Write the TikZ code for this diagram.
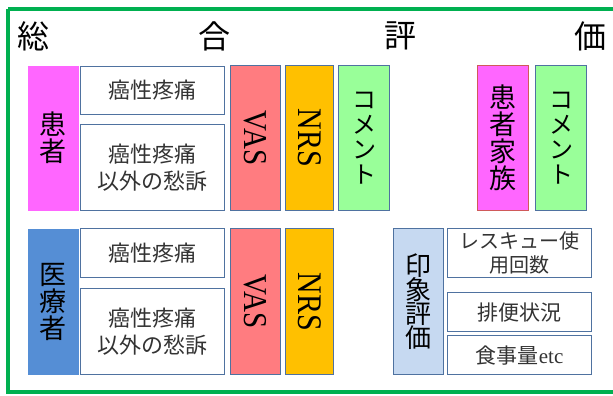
\documentclass[tikz,border=0pt]{standalone}
\usepackage{fontspec}
\setmainfont{Liberation Serif}
\newfontfamily\jp{Noto Sans CJK JP}
\usepackage{graphicx}
\definecolor{frameg}{HTML}{00B050}
\definecolor{magb}{HTML}{FF66FF}
\definecolor{vasc}{HTML}{FF7C80}
\definecolor{nrsc}{HTML}{FFC000}
\definecolor{comc}{HTML}{99FF99}
\definecolor{medc}{HTML}{558ED5}
\definecolor{impc}{HTML}{C6D9F1}
\definecolor{bordc}{HTML}{4F72A0}
\definecolor{redb}{HTML}{D05A5A}
\begin{document}
\begin{tikzpicture}[x=1pt,y=-1pt,
  box/.style={draw=bordc, line width=1.2pt, inner sep=0pt, anchor=north west, align=center},
  wbox/.style={box, fill=white, font=\jp\fontsize{22}{27}\selectfont, text=black!80},
  vbox/.style={box, font=\jp\fontsize{27}{27}\selectfont},
  lat/.style={box, font=\fontsize{30}{30}\selectfont},
  ttl/.style={font=\jp\fontsize{32}{32}\selectfont, inner sep=0pt}]
\useasboundingbox (0,0) rectangle (613,396);
\fill[white] (0,0) rectangle (613,396);
\draw[frameg, line width=4pt] (8,9) -- (620,9) (8,9) -- (8,392) -- (620,392);
% title
\node[ttl] (t1) at (33,36) {総};
\node[ttl] (t2) at (214,36) {合};
\node[ttl] (t3) at (400,36) {評};
\node[ttl] (t4) at (590,36) {価};
% top row
\node[vbox, draw=none, fill=magb, minimum width=51pt, minimum height=145pt] (pat) at (27,65) {患\\者};
\node[wbox, minimum width=144pt, minimum height=48pt] (p1) at (80,66) {癌性疼痛};
\node[wbox, minimum width=144pt, minimum height=86pt] (p2) at (80,124) {癌性疼痛\\以外の愁訴};
\node[lat, fill=vasc, minimum width=50pt, minimum height=145pt] (pv) at (230,65) {};
\node[rotate=-90, font=\fontsize{29}{29}\selectfont, inner sep=0pt] (pvt) at (pv.center) {\scalebox{1}[1.15]{VAS}};
\node[lat, fill=nrsc, minimum width=48pt, minimum height=145pt] (pn) at (285,65) {};
\node[rotate=-90, font=\fontsize{30}{30}\selectfont, inner sep=0pt] (pnt) at (pn.center) {\scalebox{1}[1.15]{NRS}};
\node[vbox, fill=comc, minimum width=51pt, minimum height=145pt, font=\jp\fontsize{24}{25}\selectfont] (pc) at (338,65) {コ\\メ\\ン\\ト};
\node[vbox, fill=magb, draw=redb, minimum width=51pt, minimum height=145pt, font=\jp\fontsize{27}{27}\selectfont] (fam) at (477,65) {患\\者\\家\\族};
\node[vbox, fill=comc, minimum width=51pt, minimum height=145pt, font=\jp\fontsize{24}{25}\selectfont] (fc) at (535,65) {コ\\メ\\ン\\ト};
% bottom row
\node[vbox, draw=none, fill=medc, minimum width=51pt, minimum height=146pt] (med) at (27,228) {医\\療\\者};
\node[wbox, minimum width=144pt, minimum height=49pt] (m1) at (80,228) {癌性疼痛};
\node[wbox, minimum width=144pt, minimum height=86pt] (m2) at (80,288) {癌性疼痛\\以外の愁訴};
\node[lat, fill=vasc, minimum width=50pt, minimum height=146pt] (mv) at (230,228) {};
\node[rotate=-90, font=\fontsize{29}{29}\selectfont, inner sep=0pt] (mvt) at (mv.center) {\scalebox{1}[1.15]{VAS}};
\node[lat, fill=nrsc, minimum width=48pt, minimum height=146pt] (mn) at (285,228) {};
\node[rotate=-90, font=\fontsize{30}{30}\selectfont, inner sep=0pt] (mnt) at (mn.center) {\scalebox{1}[1.15]{NRS}};
\node[vbox, fill=impc, minimum width=50pt, minimum height=146pt, font=\jp\fontsize{26}{24}\selectfont] (imp) at (393,228) {印\\象\\評\\価};
\node[wbox, minimum width=144pt, minimum height=49pt, font=\jp\fontsize{20}{24}\selectfont] (r1) at (447,228) {レスキュー使\\用回数};
\node[wbox, minimum width=144pt, minimum height=39pt, font=\jp\fontsize{21}{24}\selectfont] (r2) at (447,292) {排便状況};
\node[wbox, minimum width=144pt, minimum height=39pt, font=\jp\fontsize{21}{24}\selectfont] (r3) at (447,335) {食事量\fontspec{Liberation Serif}etc};
\end{tikzpicture}
\end{document}
